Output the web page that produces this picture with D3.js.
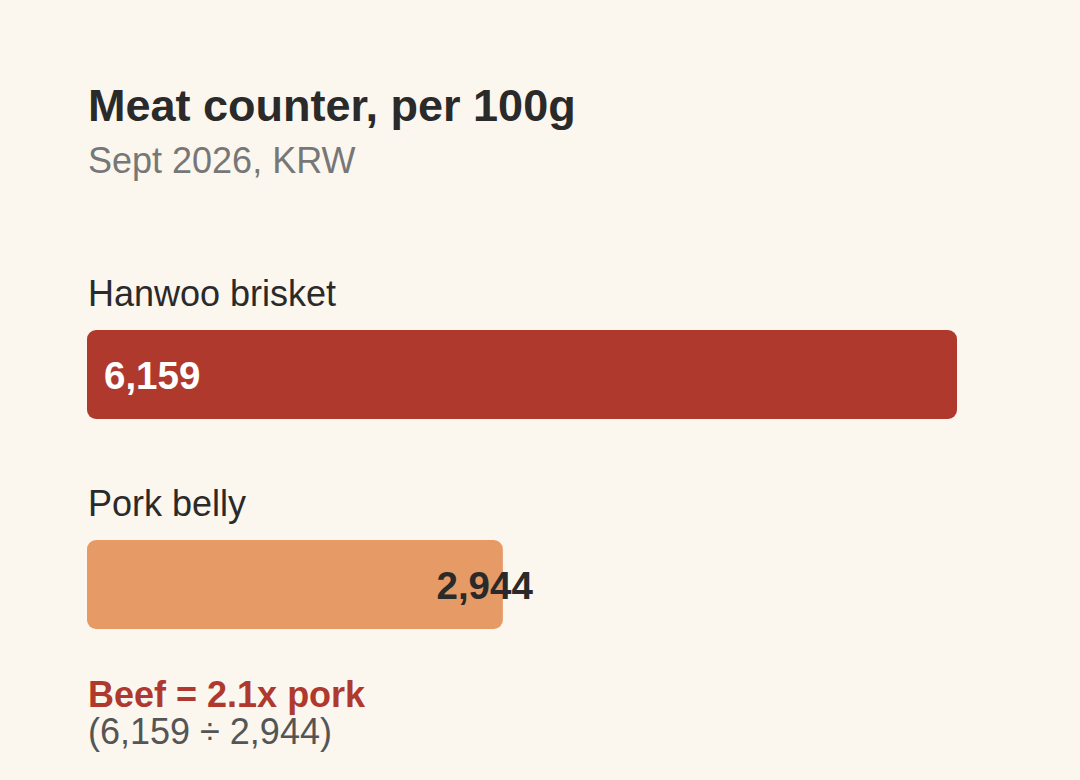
<!DOCTYPE html>
<html><head><meta charset="utf-8">
<script src="https://cdn.jsdelivr.net/npm/d3@7"></script>
<style>
html,body{margin:0;padding:0;background:#fbf7ee;}
svg{display:block;font-family:"Liberation Sans",Arial,sans-serif;}
</style></head>
<body><svg id="c" width="1080" height="780"></svg>
<script>
const categories = ["Hanwoo brisket", "Pork belly"];
const values = [6159, 2944];
const colors = ["#b0392e", "#e69a66"];
const labelColors = ["#ffffff", "#2a2a2a"];

const svg = d3.select("#c");
svg.append("rect").attr("width",1080).attr("height",780).attr("fill","#fbf7ee");

svg.append("text").attr("x",88).attr("y",121).attr("font-size",45).attr("font-weight","bold")
  .attr("fill","#2a2a2a").text("Meat counter, per 100g");
svg.append("text").attr("x",88).attr("y",173).attr("font-size",36)
  .attr("fill","#777777").text("Sept 2026, KRW");

const x = d3.scaleLinear().domain([0, d3.max(values)]).range([87, 957]);
const y = d3.scaleBand().domain(categories).range([250, 670]).paddingInner(0).paddingOuter(0);
const barTop = c => y(c) + 80;
const barH = 89;

const g = svg.append("g");
categories.forEach((c,i)=>{
  g.append("text").attr("x",88).attr("y",y(c)+55.5).attr("font-size",36).attr("fill","#2a2a2a").text(c);
  g.append("rect").attr("x",x(0)).attr("y",barTop(c)).attr("width",x(values[i])-x(0)).attr("height",barH)
    .attr("rx",9).attr("fill",colors[i]);
  const lbl = g.append("text").attr("y",barTop(c)+59).attr("font-size",38.5).attr("font-weight","bold")
    .attr("fill",labelColors[i]).text(d3.format(",")(values[i]));
  if(i===0) lbl.attr("x",x(0)+17);
  else lbl.attr("x",x(values[i])+30).attr("text-anchor","end");
});

const ratio = values[0]/values[1];
svg.append("text").attr("x",88).attr("y",707).attr("font-size",36).attr("font-weight","bold")
  .attr("fill","#b0392e").text("Beef = " + ratio.toFixed(1) + "x pork");
svg.append("text").attr("x",88).attr("y",743.5).attr("font-size",36)
  .attr("fill","#555555").text("(" + d3.format(",")(values[0]) + " ÷ " + d3.format(",")(values[1]) + ")");
</script></body></html>
